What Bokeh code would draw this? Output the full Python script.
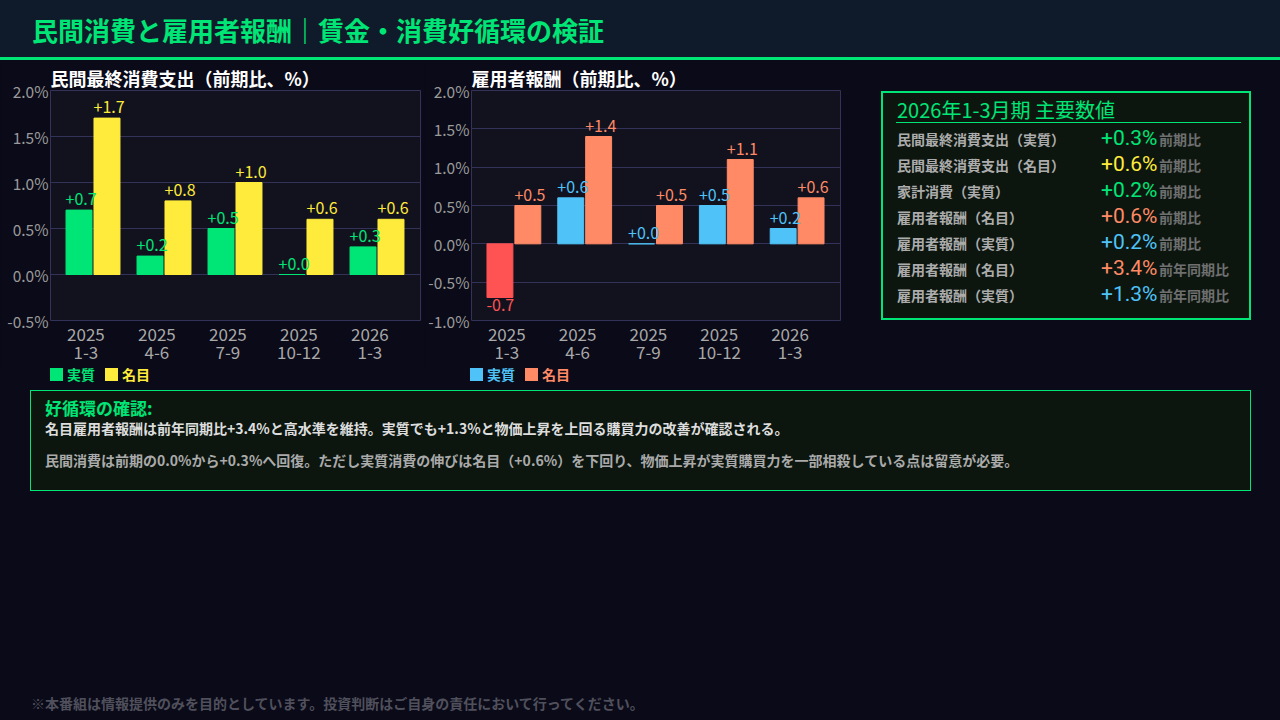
from bokeh.plotting import figure
from bokeh.models import (ColumnDataSource, Range1d, FixedTicker, PrintfTickFormatter,
                          Div, CDSView, BooleanFilter)
from bokeh.layouts import column, row
from bokeh.transform import dodge
from bokeh.core.properties import value
from bokeh.embed import file_html
from bokeh.resources import INLINE

# ---------------- data ----------------
quarters = ["2025\n1-3", "2025\n4-6", "2025\n7-9", "2025\n10-12", "2026\n1-3"]
consumption_real = [0.7, 0.2, 0.5, 0.0, 0.3]
consumption_nominal = [1.7, 0.8, 1.0, 0.6, 0.6]
compensation_real = [-0.7, 0.6, 0.0, 0.5, 0.2]
compensation_nominal = [0.5, 1.4, 0.5, 1.1, 0.6]
consumption_yticks = [-0.5, 0.0, 0.5, 1.0, 1.5, 2.0]
compensation_yticks = [-1.0, -0.5, 0.0, 0.5, 1.0, 1.5, 2.0]
series_names = ["実質", "名目"]

stat_labels = ["民間最終消費支出（実質）", "民間最終消費支出（名目）", "家計消費（実質）",
               "雇用者報酬（名目）", "雇用者報酬（実質）", "雇用者報酬（名目）", "雇用者報酬（実質）"]
stat_values = [0.3, 0.6, 0.2, 0.6, 0.2, 3.4, 1.3]
stat_basis = ["前期比", "前期比", "前期比", "前期比", "前期比", "前年同期比", "前年同期比"]

# ---------------- style ----------------
FONT = "Noto Sans CJK JP"
NUM_FONT = "Roboto"
PAGE_BG = "#0a0a18"
HEADER_BG = "#0f1a2a"
PLOT_BG = "#12121f"
GRID = "#33335a"
BOX_BG = "#0c160f"
GREEN = "#00e676"
YELLOW = "#ffeb3b"
BLUE = "#4fc3f7"
ORANGE = "#ff8a65"
RED = "#ff5252"
stat_colors = [GREEN, YELLOW, GREEN, ORANGE, BLUE, ORANGE, BLUE]

BAR_W = 0.366
OFF = 0.197
HALF = 0.19


def make_chart(title, real, nominal, yticks, real_color, nom_color, left_border, right_border):
    xs = list(range(len(quarters)))
    real_colors = [RED if v < 0 else real_color for v in real]
    src = ColumnDataSource(dict(
        x=xs, real=real, nominal=nominal, real_color=real_colors,
        real_label=[f"{v:+.1f}" for v in real],
        nominal_label=[f"{v:+.1f}" for v in nominal],
    ))
    p = figure(width=425, height=305,
               x_range=Range1d(-0.5986, 4.6127),
               y_range=Range1d(min(yticks), max(yticks)),
               output_backend="svg", toolbar_location=None, tools="",
               min_border_left=left_border, min_border_right=right_border,
               min_border_top=27, min_border_bottom=48,
               background_fill_color=PLOT_BG, border_fill_color=PAGE_BG,
               outline_line_color=GRID, margin=0)
    p.title.text = title
    p.title.text_color = "#ffffff"
    p.title.text_font = FONT
    p.title.text_font_size = "18px"
    p.title.text_font_style = "bold"
    p.title.standoff = -2
    p.title.vertical_align = "middle"
    p.title.align = "left"

    p.vbar(x=dodge("x", -OFF), top="real", bottom=0, width=BAR_W, source=src,
           fill_color="real_color", line_color="real_color", line_width=1)
    p.vbar(x=dodge("x", OFF), top="nominal", bottom=0, width=BAR_W, source=src,
           fill_color=nom_color, line_color=nom_color, line_width=1)

    pos_real = CDSView(filter=BooleanFilter([v >= 0 for v in real]))
    neg_real = CDSView(filter=BooleanFilter([v < 0 for v in real]))
    common = dict(source=src, text_font=value(FONT), text_font_size="16px", text_align="left")
    p.text(x=dodge("x", -OFF - HALF), y="real", text="real_label", view=pos_real,
           text_color="real_color", text_baseline="bottom", y_offset=-5, **common)
    p.text(x=dodge("x", -OFF - HALF), y="real", text="real_label", view=neg_real,
           text_color="real_color", text_baseline="top", y_offset=1, **common)
    p.text(x=dodge("x", OFF - HALF), y="nominal", text="nominal_label",
           text_color=nom_color, text_baseline="bottom", y_offset=-5, **common)

    # axes
    p.yaxis.ticker = FixedTicker(ticks=yticks)
    p.yaxis.formatter = PrintfTickFormatter(format="%.1f%%")
    p.ygrid.ticker = FixedTicker(ticks=yticks)
    p.ygrid.grid_line_color = GRID
    p.xgrid.grid_line_color = None
    tick_pos = [i - 0.1 for i in xs]
    p.xaxis.ticker = FixedTicker(ticks=tick_pos)
    p.xaxis.major_label_overrides = {t: q for t, q in zip(tick_pos, quarters)}
    for ax in (p.xaxis, p.yaxis):
        ax.axis_line_color = None
        ax.major_tick_line_color = None
        ax.minor_tick_line_color = None
        ax.major_tick_out = 0
        ax.major_tick_in = 0
        ax.major_label_text_font = FONT
    p.yaxis.major_label_text_font_size = "15.5px"
    p.yaxis.major_label_text_color = "#9a9a9a"
    p.yaxis.major_label_standoff = 2
    p.xaxis.major_label_text_font_size = "17px"
    p.xaxis.major_label_text_color = "#a8a8a8"
    p.xaxis.major_label_standoff = 0
    p.xaxis.major_label_text_line_height = 0.72
    return p


def legend_div(left, colors):
    parts = []
    x = left
    for name, col in zip(series_names, colors):
        parts.append(
            f'<div style="position:absolute;left:{x}px;top:0px;width:13px;height:13px;background:{col};"></div>'
            f'<div style="position:absolute;left:{x + 17}px;top:0px;line-height:13px;font-size:14px;'
            f'font-weight:bold;color:{col};white-space:nowrap;">{name}</div>')
        x += 55
    return Div(width=425, height=22, margin=0, text=(
        f'<div style="position:relative;width:425px;height:22px;font-family:\'{FONT}\';">'
        + "".join(parts) + '</div>'))


p1 = make_chart("民間最終消費支出（前期比、%）", consumption_real, consumption_nominal,
                consumption_yticks, GREEN, YELLOW, 50, 5)
p2 = make_chart("雇用者報酬（前期比、%）", compensation_real, compensation_nominal,
                compensation_yticks, BLUE, ORANGE, 45, 10)
leg1 = legend_div(50, [GREEN, YELLOW])
leg2 = legend_div(45, [BLUE, ORANGE])

header = Div(width=1280, height=63, margin=0, text=(
    f'<div style="width:1280px;height:60px;background:{HEADER_BG};border-bottom:3px solid {GREEN};">'
    f'<div style="padding-left:32px;line-height:60px;font-family:\'{FONT}\';font-size:26px;'
    f'font-weight:bold;color:{GREEN};white-space:nowrap;">民間消費と雇用者報酬｜賃金・消費好循環の検証</div></div>'))

rows_html = ""
for i, (lab, val, basis, col) in enumerate(zip(stat_labels, stat_values, stat_basis, stat_colors)):
    top = 32 + 26 * i
    rows_html += (
        f'<div style="position:absolute;left:14px;top:{top}px;height:26px;display:flex;'
        f'align-items:baseline;white-space:nowrap;line-height:26px;">'
        f'<span style="display:inline-block;width:204px;font-size:14px;font-weight:bold;color:#acacac;">{lab}</span>'
        f'<span style="display:inline-block;width:58px;font-family:\'{NUM_FONT}\';font-size:21px;color:{col};">{val:+.1f}%</span>'
        f'<span style="font-size:14px;font-weight:bold;color:#6f6f6f;">{basis}</span></div>')

stats = Div(width=430, height=327, margin=0, text=(
    f'<div style="position:relative;width:430px;height:327px;font-family:\'{FONT}\';">'
    f'<div style="position:absolute;left:31px;top:28px;width:370px;height:229px;box-sizing:border-box;'
    f'border:2px solid {GREEN};background:{BOX_BG};">'
    f'<div style="position:absolute;left:14px;top:5px;font-size:20px;line-height:24px;color:{GREEN};'
    f'white-space:nowrap;">2026年1-3月期 主要数値</div>'
    f'<div style="position:absolute;left:13px;top:29px;width:345px;height:1px;background:{GREEN};"></div>'
    f'{rows_html}</div></div>'))

note = Div(width=1280, height=101, margin=0, text=(
    f'<div style="position:relative;width:1280px;height:101px;font-family:\'{FONT}\';">'
    f'<div style="position:absolute;left:30px;top:0px;width:1221px;height:101px;box-sizing:border-box;'
    f'border:1px solid {GREEN};background:{BOX_BG};">'
    f'<div style="position:absolute;left:14px;top:6px;font-size:17px;line-height:22px;font-weight:bold;'
    f'color:{GREEN};white-space:nowrap;">好循環の確認:</div>'
    f'<div style="position:absolute;left:14px;top:27px;font-size:14px;line-height:20px;font-weight:bold;'
    f'color:#dddddd;white-space:nowrap;">名目雇用者報酬は前年同期比+3.4%と高水準を維持。実質でも+1.3%と物価上昇を上回る購買力の改善が確認される。</div>'
    f'<div style="position:absolute;left:14px;top:59px;font-size:14px;line-height:20px;font-weight:bold;'
    f'color:#aaaaaa;white-space:nowrap;">民間消費は前期の0.0%から+0.3%へ回復。ただし実質消費の伸びは名目（+0.6%）を下回り、物価上昇が実質購買力を一部相殺している点は留意が必要。</div>'
    f'</div></div>'))

footer = Div(width=1280, height=229, margin=0, text=(
    f'<div style="position:relative;width:1280px;height:229px;font-family:\'{FONT}\';">'
    f'<div style="position:absolute;left:31px;top:202px;font-size:14px;line-height:20px;font-weight:bold;'
    f'color:#50505c;white-space:nowrap;">※本番組は情報提供のみを目的としています。投資判断はご自身の責任において行ってください。</div>'
    f'</div>'))

charts = row(column(p1, leg1, spacing=0, margin=0),
             column(p2, leg2, spacing=0, margin=0),
             stats, spacing=0, margin=0)
layout = column(header, charts, note, footer,
                spacing=0, margin=0, styles={"background-color": PAGE_BG})

html = file_html(layout, INLINE, title="民間消費と雇用者報酬")
html = html.replace("</head>",
                    f"<style>html,body{{margin:0 !important;padding:0;background:{PAGE_BG};overflow:hidden;}}</style></head>", 1)
open("out.html", "w").write(html)
